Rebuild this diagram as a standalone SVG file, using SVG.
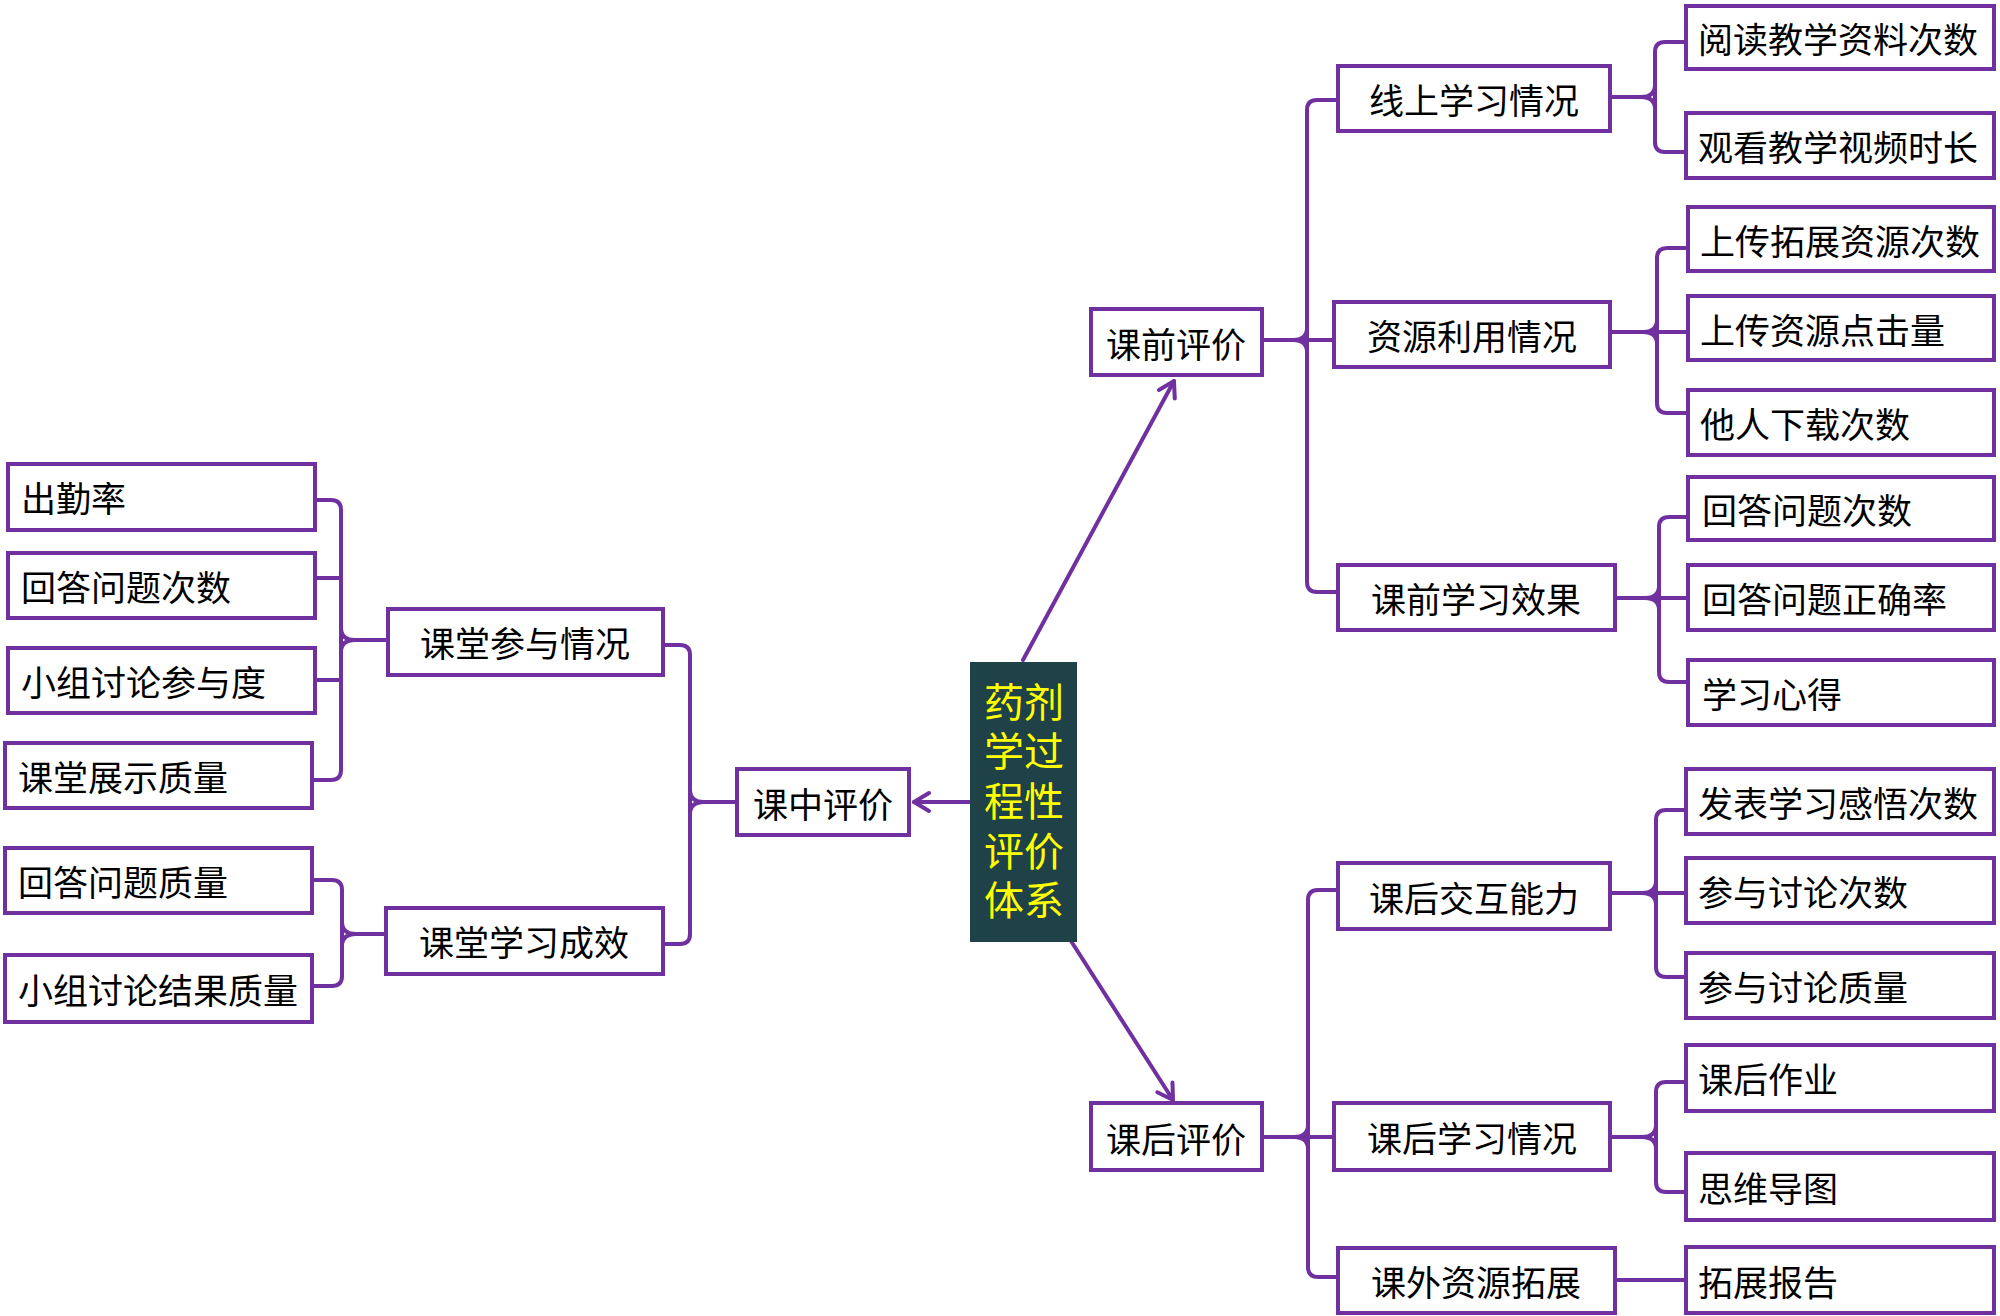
<svg xmlns="http://www.w3.org/2000/svg" width="2000" height="1316" viewBox="0 0 2000 1316">
<defs>
<style>
.box{fill:#ffffff;stroke:#7030a0;stroke-width:4}
.t{font-family:"Noto Sans CJK SC","Liberation Sans",sans-serif;font-size:35px;fill:#000000;dominant-baseline:central}
.c{text-anchor:middle}
.ct{font-family:"Noto Sans CJK SC","Liberation Sans",sans-serif;font-size:40px;fill:#ffff00;text-anchor:middle}
.ln{fill:none;stroke:#7030a0;stroke-width:4;stroke-linecap:round;stroke-linejoin:round}
</style>
<marker id="arr" markerUnits="userSpaceOnUse" viewBox="-18 -12 22 24" markerWidth="22" markerHeight="24" refX="0" refY="0" orient="auto" overflow="visible">
<path d="M -15,-9 L 0,0 L -15,9" fill="none" stroke="#7030a0" stroke-width="4" stroke-linecap="round" stroke-linejoin="round"/>
</marker>
</defs>
<rect width="2000" height="1316" fill="#ffffff"/>

<g id="connectors">
<path class="ln" d="M 1023,660 L 1174,381" marker-end="url(#arr)"/>
<path class="ln" d="M 970,802 L 914,802" marker-end="url(#arr)"/>
<path class="ln" d="M 1071,941 L 1173,1100" marker-end="url(#arr)"/>

<path class="ln" d="M 1338,100 H 1317 Q 1307,100 1307,110 V 582 Q 1307,592 1317,592 H 1338"/>
<path class="ln" d="M 1262,340 H 1334"/>
<path class="ln" d="M 1293,340 Q 1307,340 1307,328 M 1293,340 Q 1307,340 1307,352"/>

<path class="ln" d="M 1686,42 H 1665 Q 1655,42 1655,52 V 142 Q 1655,152 1665,152 H 1686"/>
<path class="ln" d="M 1610,97 H 1641"/>
<path class="ln" d="M 1641,97 Q 1655,97 1655,85 M 1641,97 Q 1655,97 1655,109"/>

<path class="ln" d="M 1686,248 H 1667 Q 1657,248 1657,258 V 403 Q 1657,413 1667,413 H 1686"/>
<path class="ln" d="M 1610,332 H 1686"/>
<path class="ln" d="M 1643,332 Q 1657,332 1657,320 M 1643,332 Q 1657,332 1657,344"/>

<path class="ln" d="M 1688,517 H 1669 Q 1659,517 1659,527 V 672 Q 1659,682 1669,682 H 1688"/>
<path class="ln" d="M 1615,598 H 1688"/>
<path class="ln" d="M 1645,598 Q 1659,598 1659,586 M 1645,598 Q 1659,598 1659,610"/>

<path class="ln" d="M 1338,890 H 1318 Q 1308,890 1308,900 V 1267 Q 1308,1277 1318,1277 H 1338"/>
<path class="ln" d="M 1262,1137 H 1334"/>
<path class="ln" d="M 1294,1137 Q 1308,1137 1308,1125 M 1294,1137 Q 1308,1137 1308,1149"/>

<path class="ln" d="M 1686,810 H 1666 Q 1656,810 1656,820 V 967 Q 1656,977 1666,977 H 1686"/>
<path class="ln" d="M 1610,893 H 1686"/>
<path class="ln" d="M 1642,893 Q 1656,893 1656,881 M 1642,893 Q 1656,893 1656,905"/>

<path class="ln" d="M 1686,1082 H 1666 Q 1656,1082 1656,1092 V 1182 Q 1656,1192 1666,1192 H 1686"/>
<path class="ln" d="M 1610,1137 H 1642"/>
<path class="ln" d="M 1642,1137 Q 1656,1137 1656,1125 M 1642,1137 Q 1656,1137 1656,1149"/>

<path class="ln" d="M 1615,1280 H 1686"/>

<path class="ln" d="M 663,645 H 680 Q 690,645 690,655 V 934 Q 690,944 680,944 H 663"/>
<path class="ln" d="M 737,802 H 704"/>
<path class="ln" d="M 704,802 Q 690,802 690,790 M 704,802 Q 690,802 690,814"/>

<path class="ln" d="M 315,500 H 331 Q 341,500 341,510 V 770 Q 341,780 331,780 H 312"/>
<path class="ln" d="M 315,578 H 341 M 315,680 H 341"/>
<path class="ln" d="M 388,640 H 355"/>
<path class="ln" d="M 355,640 Q 341,640 341,628 M 355,640 Q 341,640 341,652"/>

<path class="ln" d="M 312,880 H 332 Q 342,880 342,890 V 976 Q 342,986 332,986 H 312"/>
<path class="ln" d="M 386,934 H 356"/>
<path class="ln" d="M 356,934 Q 342,934 342,922 M 356,934 Q 342,934 342,946"/>
</g>

<g id="center">
<rect x="970" y="662" width="107" height="280" fill="#1f4249"/>
<text class="ct" x="1024" y="717"><tspan x="1024" y="717">药剂</tspan><tspan x="1024" y="766">学过</tspan><tspan x="1024" y="816">程性</tspan><tspan x="1024" y="866">评价</tspan><tspan x="1024" y="915">体系</tspan></text>
</g>

<g id="n-kqpj"><rect class="box" x="1091" y="309" width="171" height="66"/><text class="t c" x="1176" y="342">课前评价</text></g>
<g id="n-kzpj"><rect class="box" x="737" y="769" width="172" height="66"/><text class="t c" x="823" y="802">课中评价</text></g>
<g id="n-khpj"><rect class="box" x="1091" y="1103" width="171" height="67"/><text class="t c" x="1176" y="1137">课后评价</text></g>

<g id="n-xsxx"><rect class="box" x="1338" y="66" width="272" height="65"/><text class="t c" x="1474" y="98">线上学习情况</text></g>
<g id="n-zyly"><rect class="box" x="1334" y="302" width="276" height="65"/><text class="t c" x="1472" y="334">资源利用情况</text></g>
<g id="n-kqxx"><rect class="box" x="1338" y="565" width="277" height="65"/><text class="t c" x="1476" y="597">课前学习效果</text></g>
<g id="n-khjh"><rect class="box" x="1338" y="863" width="272" height="66"/><text class="t c" x="1474" y="896">课后交互能力</text></g>
<g id="n-khxx"><rect class="box" x="1334" y="1103" width="276" height="67"/><text class="t c" x="1472" y="1136">课后学习情况</text></g>
<g id="n-kwzy"><rect class="box" x="1338" y="1248" width="277" height="65"/><text class="t c" x="1476" y="1280">课外资源拓展</text></g>

<g id="n-r1"><rect class="box" x="1686" y="6" width="308" height="63"/><text class="t" x="1698" y="37">阅读教学资料次数</text></g>
<g id="n-r2"><rect class="box" x="1686" y="113" width="308" height="65"/><text class="t" x="1698" y="145">观看教学视频时长</text></g>
<g id="n-r3"><rect class="box" x="1688" y="207" width="306" height="64"/><text class="t" x="1700" y="239">上传拓展资源次数</text></g>
<g id="n-r4"><rect class="box" x="1688" y="296" width="306" height="64"/><text class="t" x="1700" y="328">上传资源点击量</text></g>
<g id="n-r5"><rect class="box" x="1688" y="390" width="306" height="65"/><text class="t" x="1700" y="422">他人下载次数</text></g>
<g id="n-r6"><rect class="box" x="1688" y="477" width="306" height="63"/><text class="t" x="1702" y="508">回答问题次数</text></g>
<g id="n-r7"><rect class="box" x="1688" y="565" width="306" height="65"/><text class="t" x="1702" y="597">回答问题正确率</text></g>
<g id="n-r8"><rect class="box" x="1688" y="660" width="306" height="65"/><text class="t" x="1702" y="692">学习心得</text></g>
<g id="n-r9"><rect class="box" x="1686" y="769" width="308" height="65"/><text class="t" x="1698" y="801">发表学习感悟次数</text></g>
<g id="n-r10"><rect class="box" x="1686" y="858" width="308" height="65"/><text class="t" x="1698" y="890">参与讨论次数</text></g>
<g id="n-r11"><rect class="box" x="1686" y="953" width="308" height="65"/><text class="t" x="1698" y="985">参与讨论质量</text></g>
<g id="n-r12"><rect class="box" x="1686" y="1045" width="308" height="66"/><text class="t" x="1698" y="1077">课后作业</text></g>
<g id="n-r13"><rect class="box" x="1686" y="1153" width="308" height="67"/><text class="t" x="1698" y="1186">思维导图</text></g>
<g id="n-r14"><rect class="box" x="1686" y="1247" width="308" height="66"/><text class="t" x="1698" y="1280">拓展报告</text></g>

<g id="n-ktcy"><rect class="box" x="388" y="609" width="275" height="66"/><text class="t c" x="525" y="641">课堂参与情况</text></g>
<g id="n-ktxx"><rect class="box" x="386" y="908" width="277" height="66"/><text class="t c" x="524" y="940">课堂学习成效</text></g>

<g id="n-l1"><rect class="box" x="8" y="464" width="307" height="66"/><text class="t" x="21" y="496">出勤率</text></g>
<g id="n-l2"><rect class="box" x="8" y="553" width="307" height="65"/><text class="t" x="21" y="585">回答问题次数</text></g>
<g id="n-l3"><rect class="box" x="8" y="648" width="307" height="65"/><text class="t" x="21" y="680">小组讨论参与度</text></g>
<g id="n-l4"><rect class="box" x="5" y="743" width="307" height="65"/><text class="t" x="18" y="775">课堂展示质量</text></g>
<g id="n-l5"><rect class="box" x="5" y="848" width="307" height="65"/><text class="t" x="18" y="880">回答问题质量</text></g>
<g id="n-l6"><rect class="box" x="5" y="955" width="307" height="67"/><text class="t" x="18" y="988">小组讨论结果质量</text></g>
</svg>
